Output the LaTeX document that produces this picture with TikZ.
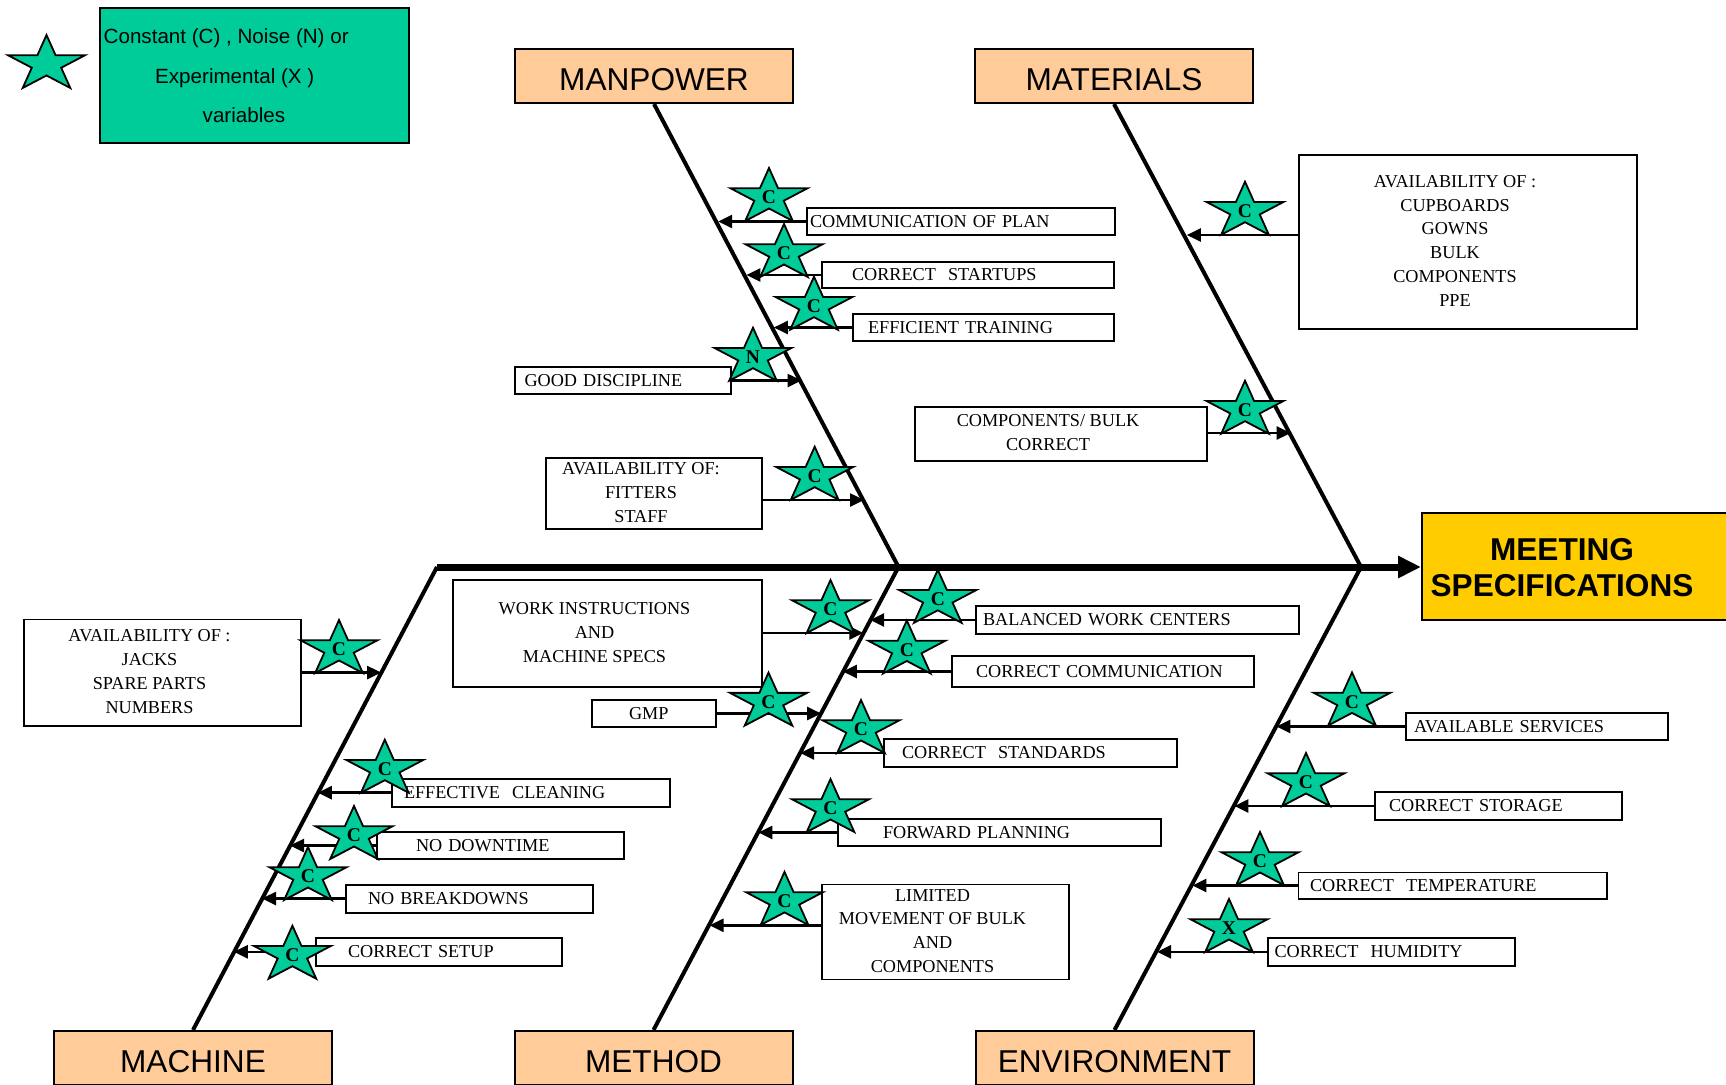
\documentclass[tikz,border=0pt]{standalone}
\usepackage{fontspec}
\setmainfont{Liberation Serif}
\newfontfamily\arialf{Liberation Sans}
\usetikzlibrary{arrows.meta}
\definecolor{peach}{HTML}{FFCC99}
\definecolor{tealg}{HTML}{00CC99}
\definecolor{gold}{HTML}{FFCC00}

\tikzset{
  starsty/.style={fill=tealg, draw=black, line width=1.8pt, line join=miter},
  sletter/.style={inner sep=0pt, font=\bfseries\fontsize{19.5}{19.5}\selectfont},
  ibox/.style={draw=black, line width=1.6pt, inner sep=0pt,
    font=\fontsize{18.2}{23.8}\selectfont},
  catbox/.style={draw=black, fill=peach, line width=2pt, minimum width=278pt,
    minimum height=54pt, inner sep=0pt, text height=29.6pt, text depth=0pt,
    font=\arialf\fontsize{31.6}{36}\selectfont},
  bone/.style={line width=4pt},
  arr/.style={line width=2.5pt, -{Triangle[length=14pt,width=13pt]}},
}

% star: name, apex x, apex y, letter
\newcommand\vstar[4]{%
  \filldraw[starsty, shift={(#2,#3+29.3)}, xscale=40.5, yscale=29.3]
    (-90:1) -- (-54:0.382) -- (-18:1) -- (18:0.382) -- (54:1) -- (90:0.382)
    -- (126:1) -- (162:0.382) -- (198:1) -- (234:0.382) -- cycle;
  \node[sletter] (#1) at (#2,#3+29.3) {#4};}

% single-line box: name, x1, y1, x2, y2, indent, text
\newcommand\itemL[7]{%
  \pgfmathsetmacro\ibW{#4-#2}\pgfmathsetmacro\ibH{#5-#3}%
  \pgfmathsetmacro\ibX{(#2+#4)/2}\pgfmathsetmacro\ibY{(#3+#5)/2}%
  \node[ibox, minimum width=\ibW pt, minimum height=\ibH pt, text width=\ibW pt,
    align=left] (#1) at (\ibX,\ibY) {\hspace*{#6pt}#7};}

% multi-line box: name, x1, y1, x2, y2, rows
\newcommand\itemC[6]{%
  \pgfmathsetmacro\ibW{#4-#2}\pgfmathsetmacro\ibH{#5-#3}%
  \pgfmathsetmacro\ibX{(#2+#4)/2}\pgfmathsetmacro\ibY{(#3+#5)/2}%
  \node[ibox, minimum width=\ibW pt, minimum height=\ibH pt] (#1) at (\ibX,\ibY)
    {\begin{tabular}{@{}c@{\hspace{26pt}}}#6\end{tabular}};}

\begin{document}
\begin{tikzpicture}[x=1pt,y=-1pt]
\useasboundingbox (0,0) rectangle (1726,1084);

% ---------- legend ----------
\node[draw=black, fill=tealg, line width=2pt, minimum width=309pt, minimum height=135pt,
  inner sep=0pt] (legend) at (254.5,75.5) {};
\node[align=left, inner sep=0pt, anchor=west, font=\arialf\fontsize{20.6}{39.5}\selectfont]
  (legtxt) at (103.5,76) {Constant (C) , Noise (N) or\\\hspace*{51.5pt}Experimental (X )\\\hspace*{99pt}variables};
\vstar{lstar}{46.5}{35}{}

% ---------- categories ----------
\node[catbox] (manpower) at (654,76) {MANPOWER};
\node[catbox] (materials) at (1114,76) {MATERIALS};
\node[catbox] (machine) at (193,1058) {MACHINE};
\node[catbox] (method) at (653.5,1058) {METHOD};
\node[catbox] (environment) at (1114.5,1058) {ENVIRONMENT};

\node[draw=black, fill=gold, line width=2pt, minimum width=330pt, minimum height=107pt,
  inner sep=0pt, anchor=west] (meet) at (1421,566.5) {};
\node[align=center, inner sep=0pt, font=\arialf\bfseries\fontsize{31.6}{36}\selectfont]
  (meettxt) at (1562,568) {MEETING\\SPECIFICATIONS};

% ---------- skeleton ----------
\coordinate (v0) at (437,567);
\coordinate (v1) at (898.5,567);
\coordinate (v2) at (1361,567);
\draw[line width=7pt, -{Triangle[length=23pt,width=21pt]}] (v0) -- (v0 -| meet.west);
\draw[bone] (manpower.south) -- (v1);
\draw[bone] (materials.south) -- (v2);
\draw[bone] (machine.north) -- (v0);
\draw[bone] (method.north) -- (v1);
\draw[bone] (environment.north) -- (v2);

% ---------- tip coordinates on the bones ----------
\coordinate (t1) at (718.2,221.5);
\coordinate (t2) at (746.4,275);
\coordinate (t3) at (773.8,327.5);
\coordinate (t4) at (801.5,380.5);
\coordinate (t5) at (864.0,500);
\coordinate (t6) at (1186.8,235);
\coordinate (t7) at (1290.7,433);
\coordinate (t8) at (381.2,672.6);
\coordinate (t9) at (863.3,633);
\coordinate (t10) at (821.2,713.5);
\coordinate (t11) at (870.1,620);
\coordinate (t12) at (842.8,671.5);
\coordinate (t13) at (800.2,753);
\coordinate (t14) at (758.4,832.5);
\coordinate (t15) at (709.6,925.3);
\coordinate (t16) at (317.8,792.7);
\coordinate (t17) at (290.0,845.5);
\coordinate (t18) at (262.0,898.5);
\coordinate (t19) at (233.8,951.8);
\coordinate (t20) at (1276.4,726.5);
\coordinate (t21) at (1234.4,806);
\coordinate (t22) at (1192.4,885.5);
\coordinate (t23) at (1157.0,951.8);

% ---------- boxes ----------
\itemL{b1}{807}{208}{1115}{235}{3}{COMMUNICATION OF PLAN}
\itemL{b2}{822}{262}{1114}{288}{30}{CORRECT\ \ STARTUPS}
\itemL{b3}{853}{314}{1114}{341}{15}{EFFICIENT TRAINING}
\itemL{b4}{515}{367}{731}{394}{9.5}{GOOD DISCIPLINE}
\itemC{b5}{546}{460}{762}{527}{AVAILABILITY OF:\\FITTERS\\STAFF}
\itemC{b6}{1299}{155}{1637}{329}{AVAILABILITY OF :\\CUPBOARDS\\GOWNS\\BULK\\COMPONENTS\\PPE}
\itemC{b7}{915}{407}{1207}{461}{COMPONENTS/ BULK\\CORRECT}
\itemC{b8}{24}{619.5}{301}{726}{AVAILABILITY OF :\\JACKS\\SPARE PARTS\\NUMBERS}
\itemC{b9}{453}{580}{762}{687}{WORK INSTRUCTIONS\\AND\\MACHINE SPECS}
\itemL{b10}{592}{700}{716}{727}{37}{GMP}
\itemL{b11}{976}{606}{1299}{634}{7}{BALANCED WORK CENTERS}
\itemL{b12}{952}{656}{1254}{687}{24}{CORRECT COMMUNICATION}
\itemL{b13}{884}{739}{1177}{767}{18}{CORRECT\ \ STANDARDS}
\itemL{b14}{838}{819}{1161}{846}{45}{FORWARD PLANNING}
\itemC{b15}{822}{885}{1069}{979}{LIMITED\\MOVEMENT OF BULK\\AND\\COMPONENTS}
\itemL{b16}{392}{779}{670}{807}{12}{EFFECTIVE\ \ CLEANING}
\itemL{b17}{377}{832}{624}{859}{39}{NO DOWNTIME}
\itemL{b18}{346}{885}{593}{913}{22}{NO BREAKDOWNS}
\itemL{b19}{316}{938}{562}{966}{32}{CORRECT SETUP}
\itemL{b20}{1406}{713}{1668}{740}{8}{AVAILABLE SERVICES}
\itemL{b21}{1375}{792}{1622}{820}{14}{CORRECT STORAGE}
\itemL{b22}{1298.5}{872.4}{1607}{899}{11.5}{CORRECT\ \ TEMPERATURE}
\itemL{b23}{1268}{938}{1515}{966}{6.5}{CORRECT\ \ HUMIDITY}

% ---------- arrows ----------
\draw[arr] (t1 -| b1.west) -- (t1);
\draw[arr] (t2 -| b2.west) -- (t2);
\draw[arr] (t3 -| b3.west) -- (t3);
\draw[arr] (t4 -| b4.east) -- (t4);
\draw[arr] (t5 -| b5.east) -- (t5);
\draw[arr] (t6 -| b6.west) -- (t6);
\draw[arr] (t7 -| b7.east) -- (t7);
\draw[arr] (t8 -| b8.east) -- (t8);
\draw[arr] (t9 -| b9.east) -- (t9);
\draw[arr] (t10 -| b10.east) -- (t10);
\draw[arr] (t11 -| b11.west) -- (t11);
\draw[arr] (t12 -| b12.west) -- (t12);
\draw[arr] (t13 -| b13.west) -- (t13);
\draw[arr] (t14 -| b14.west) -- (t14);
\draw[arr] (t15 -| b15.west) -- (t15);
\draw[arr] (t16 -| b16.west) -- (t16);
\draw[arr] (t17 -| b17.west) -- (t17);
\draw[arr] (t18 -| b18.west) -- (t18);
\draw[arr] (t19 -| b19.west) -- (t19);
\draw[arr] (t20 -| b20.west) -- (t20);
\draw[arr] (t21 -| b21.west) -- (t21);
\draw[arr] (t22 -| b22.west) -- (t22);
\draw[arr] (t23 -| b23.west) -- (t23);

% ---------- stars ----------
\vstar{s1}{769}{168}{C}
\vstar{s2}{784}{224}{C}
\vstar{s3}{814}{276.7}{C}
\vstar{s4}{753}{327.7}{N}
\vstar{s5}{814.7}{446.7}{C}
\vstar{s6}{1245}{181.7}{C}
\vstar{s7}{1245}{380.7}{C}
\vstar{s8}{339}{620}{C}
\vstar{s9}{830.5}{580}{C}
\vstar{s10}{768.5}{672.6}{C}
\vstar{s11}{937.8}{569.8}{C}
\vstar{s12}{906.8}{620.5}{C}
\vstar{s13}{861}{700}{C}
\vstar{s14}{830.5}{779}{C}
\vstar{s15}{784.5}{871.9}{C}
\vstar{s16}{384.8}{739.7}{C}
\vstar{s17}{354}{806}{C}
\vstar{s18}{308}{847}{C}
\vstar{s19}{292.4}{925.7}{C}
\vstar{s20}{1352}{672.4}{C}
\vstar{s21}{1306}{753}{C}
\vstar{s22}{1260}{832}{C}
\vstar{s23}{1229}{899}{X}

\end{tikzpicture}
\end{document}
